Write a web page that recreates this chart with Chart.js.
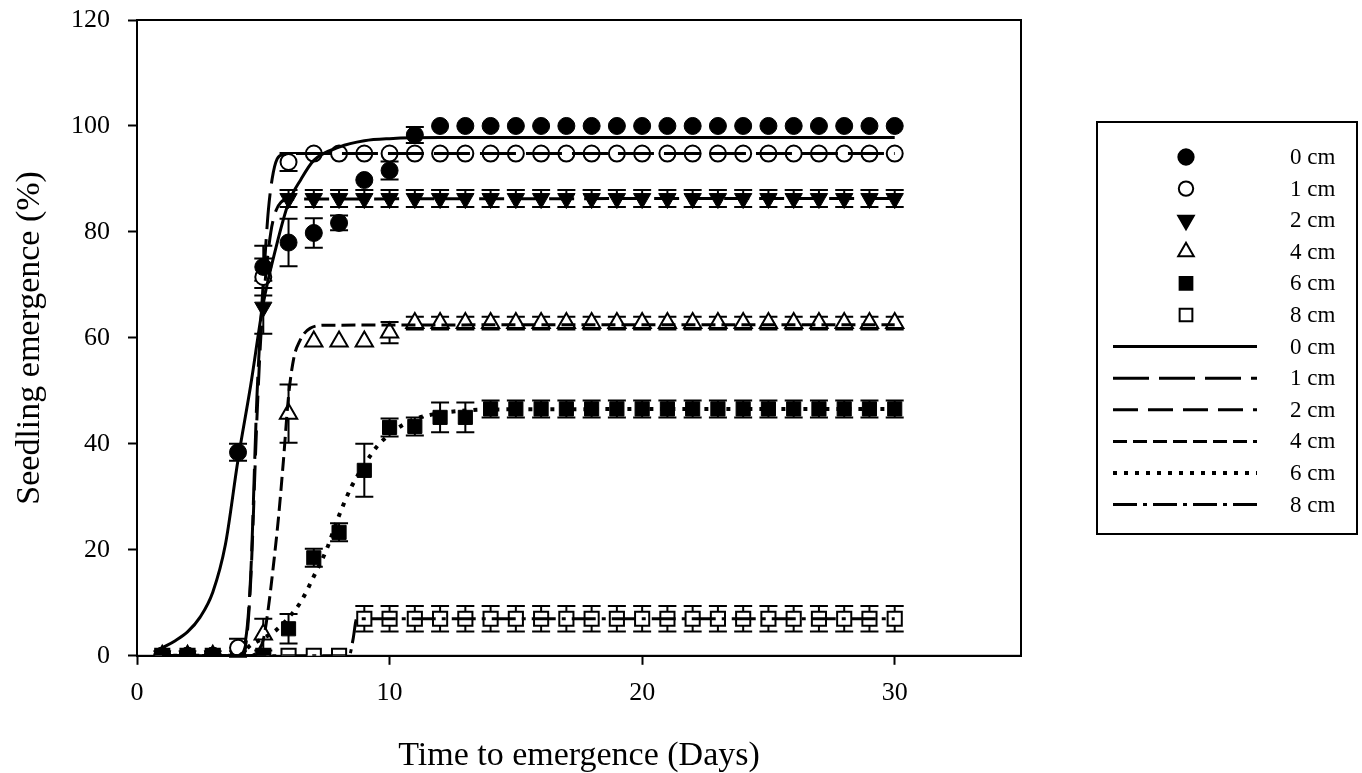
<!DOCTYPE html>
<html>
<head>
<meta charset="utf-8">
<title>Seedling emergence</title>
<script src="https://cdn.jsdelivr.net/npm/chart.js"></script>
<style>
  html, body { margin: 0; padding: 0; background: #fff; }
  #cadre { width: 1362px; height: 773px; }
</style>
</head>
<body>
<div id="cadre"><canvas id="graphique"></canvas></div>
<script>
const police = "'Liberation Serif', 'Times New Roman', serif";

const jours = [1, 2, 3, 4, 5, 6, 7, 8, 9, 10, 11, 12, 13, 14, 15, 16, 17, 18, 19, 20, 21, 22, 23, 24, 25, 26, 27, 28, 29, 30];
const profondeurs = ["0 cm", "1 cm", "2 cm", "4 cm", "6 cm", "8 cm"];

// Levée observée (%) et erreur standard, par profondeur de semis
const levee0 = [0, 0, 0, 38.4, 73.4, 78, 79.8, 81.7, 89.8, 91.6, 98.3, 100, 100, 100, 100, 100, 100, 100, 100, 100, 100, 100, 100, 100, 100, 100, 100, 100, 100, 100];
const erreur0 = [0, 0, 0, 1.6, 4, 4.5, 2.8, 1.4, 0, 1.7, 1.5, 0, 0, 0, 0, 0, 0, 0, 0, 0, 0, 0, 0, 0, 0, 0, 0, 0, 0, 0];
const levee1 = [0, 0, 0, 1.5, 71.5, 93.2, 94.8, 94.8, 94.8, 94.8, 94.8, 94.8, 94.8, 94.8, 94.8, 94.8, 94.8, 94.8, 94.8, 94.8, 94.8, 94.8, 94.8, 94.8, 94.8, 94.8, 94.8, 94.8, 94.8, 94.8];
const erreur1 = [0, 0, 0, 1.7, 3.5, 1.7, 0, 0, 0, 0, 0, 0, 0, 0, 0, 0, 0, 0, 0, 0, 0, 0, 0, 0, 0, 0, 0, 0, 0, 0];
const levee2 = [0, 0, 0, 0, 65.8, 86.3, 86.3, 86.3, 86.3, 86.3, 86.3, 86.3, 86.3, 86.3, 86.3, 86.3, 86.3, 86.3, 86.3, 86.3, 86.3, 86.3, 86.3, 86.3, 86.3, 86.3, 86.3, 86.3, 86.3, 86.3];
const erreur2 = [0, 0, 0, 0, 5, 1.6, 1.6, 1.6, 1.6, 1.6, 1.6, 1.6, 1.6, 1.6, 1.6, 1.6, 1.6, 1.6, 1.6, 1.6, 1.6, 1.6, 1.6, 1.6, 1.6, 1.6, 1.6, 1.6, 1.6, 1.6];
const levee4 = [0, 0, 0, 0, 4, 45.7, 59.3, 59.3, 59.3, 61, 62.8, 62.8, 62.8, 62.8, 62.8, 62.8, 62.8, 62.8, 62.8, 62.8, 62.8, 62.8, 62.8, 62.8, 62.8, 62.8, 62.8, 62.8, 62.8, 62.8];
const erreur4 = [0, 0, 0, 0, 3, 5.5, 0, 0, 0, 2, 1.2, 1.2, 1.2, 1.2, 1.2, 1.2, 1.2, 1.2, 1.2, 1.2, 1.2, 1.2, 1.2, 1.2, 1.2, 1.2, 1.2, 1.2, 1.2, 1.2];
const levee6 = [0, 0, 0, 0, 0, 5.1, 18.5, 23.3, 35, 43.1, 43.3, 45, 45, 46.6, 46.6, 46.6, 46.6, 46.6, 46.6, 46.6, 46.6, 46.6, 46.6, 46.6, 46.6, 46.6, 46.6, 46.6, 46.6, 46.6];
const erreur6 = [0, 0, 0, 0, 0, 2.8, 1.7, 1.7, 5, 1.7, 1.7, 2.8, 2.8, 1.6, 1.6, 1.6, 1.6, 1.6, 1.6, 1.6, 1.6, 1.6, 1.6, 1.6, 1.6, 1.6, 1.6, 1.6, 1.6, 1.6];
const levee8 = [0, 0, 0, 0, 0, 0, 0, 0, 7, 7, 7, 7, 7, 7, 7, 7, 7, 7, 7, 7, 7, 7, 7, 7, 7, 7, 7, 7, 7, 7];
const erreur8 = [0, 0, 0, 0, 0, 0, 0, 0, 2.4, 2.4, 2.4, 2.4, 2.4, 2.4, 2.4, 2.4, 2.4, 2.4, 2.4, 2.4, 2.4, 2.4, 2.4, 2.4, 2.4, 2.4, 2.4, 2.4, 2.4, 2.4];

// Courbes ajustées (points relevés le long de chaque courbe)
const ajustX0 = [1, 1.5, 2, 2.5, 3, 3.5, 4, 4.5, 5, 5.5, 6, 6.5, 7, 8, 9, 10, 12, 30];
const ajustY0 = [1.5, 2.8, 4.5, 7.3, 12, 21, 37, 51, 66.5, 77, 85.5, 90, 93.5, 96, 97.2, 97.6, 97.8, 97.8];
const ajustX1 = [1, 4, 4.3, 4.5, 4.75, 4.9, 5.05, 5.2, 5.35, 5.55, 5.8, 6.5, 30];
const ajustY1 = [0, 0, 3, 15, 49, 63, 74, 84, 90, 93.8, 94.6, 94.8, 94.8];
const ajustX2 = [1, 4, 4.3, 4.5, 4.75, 4.9, 5.1, 5.3, 5.5, 5.7, 6, 30];
const ajustY2 = [0, 0, 2, 14, 45, 60, 72, 80, 84, 85.6, 86.2, 86.3];
const ajustX4 = [1, 4.5, 4.8, 5, 5.2, 5.4, 5.6, 5.8, 6, 6.2, 6.45, 6.85, 7.5, 30];
const ajustY4 = [0, 0, 1, 3, 9, 17, 26, 37, 49, 56, 59.5, 61.8, 62.4, 62.5];
const ajustX6 = [1, 4, 4.5, 5, 5.5, 6, 6.5, 7, 7.5, 8, 8.5, 9, 9.5, 10, 10.5, 11, 12, 13, 14, 30];
const ajustY6 = [0, 0, 2, 3.3, 4.8, 7.2, 10.3, 15, 20, 26.5, 32, 36, 39.5, 41.8, 43.5, 44.7, 45.8, 46.3, 46.5, 46.6];
const ajustX8 = [1, 8.4, 8.55, 8.7, 9, 30];
const ajustY8 = [0, 0, 3, 7, 7, 7];

const versPoints = (xs, ys) => xs.map((x, i) => ({ x, y: ys[i] }));

function serieMarqueurs(nom, valeurs, erreurs, style, plein, rayon, rotation = 0) {
  return {
    type: "scatter",
    label: nom,
    data: versPoints(jours, valeurs),
    erreurs,
    showLine: false,
    pointStyle: style,
    rotation,
    pointRadius: rayon,
    pointBackgroundColor: plein ? "#000" : "#fff",
    pointBorderColor: "#000",
    pointBorderWidth: plein ? 1 : 2,
    order: 2,
  };
}

function serieCourbe(nom, xs, ys, tirets, epaisseur = 3) {
  return {
    type: "line",
    label: nom,
    data: versPoints(xs, ys),
    borderColor: "#000",
    borderWidth: epaisseur,
    borderDash: tirets,
    borderCapStyle: "butt",
    pointRadius: 0,
    fill: false,
    cubicInterpolationMode: "monotone",
    order: 1,
  };
}

const marqueurs = [
  serieMarqueurs(profondeurs[0], levee0, erreur0, "circle", true, 8.5),
  serieMarqueurs(profondeurs[1], levee1, erreur1, "circle", false, 8),
  serieMarqueurs(profondeurs[2], levee2, erreur2, "triangle", true, 10, 180),
  serieMarqueurs(profondeurs[3], levee4, erreur4, "triangle", false, 10),
  serieMarqueurs(profondeurs[4], levee6, erreur6, "rect", true, 10),
  serieMarqueurs(profondeurs[5], levee8, erreur8, "rect", false, 10),
];

const courbes = [
  serieCourbe(profondeurs[0], ajustX0, ajustY0, []),
  serieCourbe(profondeurs[1], ajustX1, ajustY1, [36, 10]),
  serieCourbe(profondeurs[2], ajustX2, ajustY2, [25, 10]),
  serieCourbe(profondeurs[3], ajustX4, ajustY4, [14, 6]),
  serieCourbe(profondeurs[4], ajustX6, ajustY6, [4, 7], 4),
  serieCourbe(profondeurs[5], ajustX8, ajustY8, [24, 6, 4, 6]),
];

// Barres d'erreur, dessinées sous les marqueurs
const barresErreur = {
  id: "barresErreur",
  beforeDatasetsDraw(chart) {
    const { ctx, scales: { y } } = chart;
    ctx.save();
    ctx.strokeStyle = "#000";
    ctx.lineWidth = 2;
    chart.data.datasets.forEach((ds, i) => {
      if (!ds.erreurs) return;
      chart.getDatasetMeta(i).data.forEach((pt, j) => {
        const e = ds.erreurs[j];
        if (!e) return;
        const haut = y.getPixelForValue(ds.data[j].y + e);
        const bas = y.getPixelForValue(ds.data[j].y - e);
        ctx.beginPath();
        ctx.moveTo(pt.x, haut);
        ctx.lineTo(pt.x, bas);
        ctx.moveTo(pt.x - 9, haut);
        ctx.lineTo(pt.x + 9, haut);
        ctx.moveTo(pt.x - 9, bas);
        ctx.lineTo(pt.x + 9, bas);
        ctx.stroke();
      });
    });
    ctx.restore();
  },
};

// Cadre complet autour de la zone de tracé
const cadreZone = {
  id: "cadreZone",
  beforeDatasetsDraw(chart) {
    const { ctx, chartArea: a } = chart;
    ctx.save();
    ctx.strokeStyle = "#000";
    ctx.lineWidth = 2;
    ctx.strokeRect(a.left, a.top, a.right - a.left, a.bottom - a.top);
    ctx.restore();
  },
};

// Légende en deux blocs : marqueurs puis courbes
const legende = {
  id: "legende",
  afterDraw(chart) {
    const { ctx, chartArea: a } = chart;
    const gauche = a.right + 76;
    const haut = 122;
    const pas = 31.6;
    ctx.save();
    ctx.strokeStyle = "#000";
    ctx.lineWidth = 2;
    ctx.strokeRect(gauche, haut, 260, 412);
    ctx.font = `23px ${police}`;
    ctx.textBaseline = "middle";
    ctx.fillStyle = "#000";

    marqueurs.forEach((ds, i) => {
      const yy = haut + 35 + i * pas;
      ctx.fillStyle = ds.pointBackgroundColor;
      ctx.strokeStyle = "#000";
      ctx.lineWidth = 2;
      ctx.setLineDash([]);
      Chart.helpers.drawPoint(ctx, {
        pointStyle: ds.pointStyle,
        rotation: ds.rotation,
        radius: ds.pointRadius * 0.9,
        borderWidth: ds.pointBorderWidth,
      }, gauche + 89, yy);
      ctx.fillStyle = "#000";
      ctx.fillText(ds.label, gauche + 193, yy + 1);
    });

    courbes.forEach((ds, i) => {
      const yy = haut + 35 + (i + 6) * pas;
      ctx.strokeStyle = "#000";
      ctx.lineWidth = ds.borderWidth;
      ctx.lineCap = "butt";
      ctx.setLineDash(ds.borderDash);
      ctx.beginPath();
      ctx.moveTo(gauche + 16, yy);
      ctx.lineTo(gauche + 160, yy);
      ctx.stroke();
      ctx.setLineDash([]);
      ctx.fillStyle = "#000";
      ctx.fillText(ds.label, gauche + 193, yy + 1);
    });
    ctx.restore();
  },
};

const ctx = document.getElementById("graphique").getContext("2d");
const chart = new Chart(ctx, {
  data: { datasets: [...courbes, ...marqueurs] },
  options: {
    responsive: true,
    maintainAspectRatio: false,
    animation: false,
    events: [],
    layout: { padding: { top: 20, right: 341, bottom: 0, left: 4 } },
    plugins: {
      legend: { display: false },
      tooltip: { enabled: false },
    },
    scales: {
      x: {
        type: "linear",
        min: 0,
        max: 35,
        grid: { drawOnChartArea: false, tickLength: 9, tickWidth: 2, color: "#000" },
        border: { color: "#000", width: 2 },
        ticks: {
          stepSize: 10,
          includeBounds: false,
          padding: 13,
          color: "#000",
          font: { family: police, size: 26 },
        },
        title: {
          display: true,
          text: "Time to emergence (Days)",
          color: "#000",
          font: { family: police, size: 34, lineHeight: 1 },
          padding: { top: 17, bottom: 0 },
        },
      },
      y: {
        min: 0,
        max: 120,
        // le libellé « 120 » déborde au-dessus sans décaler la zone de tracé
        afterFit(scale) {
          scale.paddingTop = 0;
        },
        grid: { drawOnChartArea: false, tickLength: 9, tickWidth: 2, color: "#000" },
        border: { color: "#000", width: 2 },
        ticks: {
          stepSize: 20,
          padding: 18,
          color: "#000",
          font: { family: police, size: 26 },
        },
        title: {
          display: true,
          text: "Seedling emergence (%)",
          color: "#000",
          font: { family: police, size: 34, lineHeight: 1 },
          padding: { top: 9, bottom: 6 },
        },
      },
    },
  },
  plugins: [cadreZone, barresErreur, legende],
});
</script>
</body>
</html>
